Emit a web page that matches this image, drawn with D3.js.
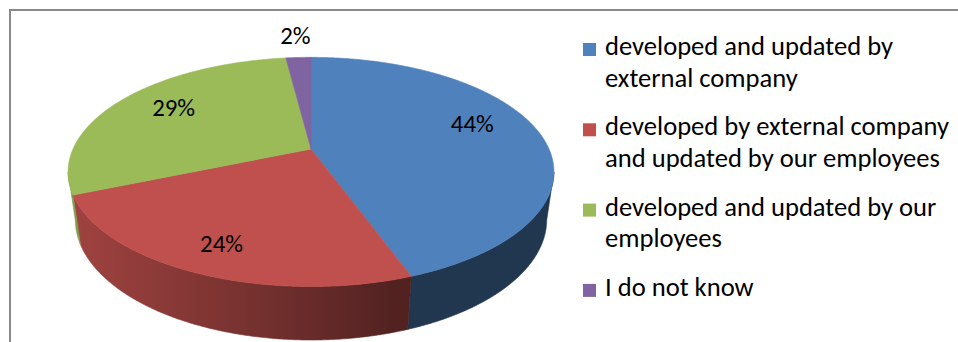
<!DOCTYPE html>
<html>
<head>
<meta charset="utf-8">
<script src="https://cdn.jsdelivr.net/npm/d3@7"></script>
<style>
  html, body { margin: 0; padding: 0; background: #fff; }
  svg { display: block; }
</style>
</head>
<body>
<svg id="chart" width="958" height="342"></svg>
<script>
// Who develops and updates the system — share of answers
const categories = [
  "developed and updated by external company",
  "developed by external company and updated by our employees",
  "developed and updated by our employees",
  "I do not know"
];
const legendLines = [
  ["developed and updated by", "external company"],
  ["developed by external company", "and updated by our employees"],
  ["developed and updated by our", "employees"],
  ["I do not know"]
];
const values = [44, 24, 29, 2];
const valueLabels = ["44%", "24%", "29%", "2%"];
const sliceColors = ["#4f81bd", "#c0504d", "#9bbb59", "#8064a2"];

const W = 958, H = 342;
const svg = d3.select("#chart");
const defs = svg.append("defs");

// chart frame
svg.append("rect")
  .attr("x", 10).attr("y", 10)
  .attr("width", W + 20).attr("height", H + 20)
  .attr("fill", "#fff")
  .attr("stroke", "#898989").attr("stroke-width", 2);

// --- 3D pie projection -------------------------------------------------
// unit disk in world space: x right, y up, z away from the viewer
const cx = 311, cy = 149;          // projected pie centre
const kx = 238, ky = 220;          // horizontal / vertical screen scale
const tilt = 30 * Math.PI / 180;   // viewing elevation
const rho = 0.231;                 // perspective strength (radius / eye distance)
const thick = 0.254;               // pie height relative to radius
const sinT = Math.sin(tilt), cosT = Math.cos(tilt);

function project(x, y, z) {
  const up = y * cosT + z * sinT;
  const depth = 1 - rho * y * sinT + rho * z * cosT;
  return [cx + kx * x / depth, cy - ky * up / depth];
}
const rim = (a, y, r = 1) => project(r * Math.sin(a), y, r * Math.cos(a));

const pie = d3.pie().sort(null).value(d => d);
const arcs = pie(values);

const step = Math.PI / 360;
function arcAngles(a0, a1) {
  const n = Math.max(2, Math.ceil((a1 - a0) / step));
  return d3.range(n + 1).map(i => a0 + (a1 - a0) * i / n);
}

// wall shading: light comes mostly from the left
function wallColor(base, a) {
  const dot = (-Math.sin(a) - 0.3 * Math.cos(a)) / Math.hypot(1, 0.3);
  const k = 0.42 + 0.41 * Math.max(0, dot);
  const c = d3.rgb(base);
  return d3.rgb(c.r * k, c.g * k, c.b * k).formatHex();
}

// visible part of the outer wall lies between the two silhouette angles
const aLeft = Math.acos(-rho * cosT);
const aRight = 2 * Math.PI - aLeft;

const line = d3.line().curve(d3.curveLinearClosed);
const gPie = svg.append("g");

arcs.forEach((d, i) => {
  const a0 = Math.max(d.startAngle, aLeft);
  const a1 = Math.min(d.endAngle, aRight);
  if (a1 <= a0) return;
  const angs = arcAngles(a0, a1);
  const topPts = angs.map(a => rim(a, 0));
  const botPts = angs.map(a => rim(a, -thick)).reverse();
  const xs = topPts.concat(botPts).map(p => p[0]);
  const x1 = d3.min(xs), x2 = d3.max(xs);
  const id = "wall-" + i;
  const stops = angs.map(a => ({
    offset: (rim(a, 0)[0] - x1) / (x2 - x1),
    color: wallColor(sliceColors[i], a)
  })).sort((p, q) => p.offset - q.offset);
  const grad = defs.append("linearGradient")
    .attr("id", id).attr("gradientUnits", "userSpaceOnUse")
    .attr("x1", x1).attr("x2", x2).attr("y1", 0).attr("y2", 0);
  grad.selectAll("stop").data(stops).join("stop")
    .attr("offset", s => Math.max(0, Math.min(1, s.offset)))
    .attr("stop-color", s => s.color);
  gPie.append("path")
    .attr("class", "wall")
    .attr("d", line(topPts.concat(botPts)))
    .attr("fill", `url(#${id})`)
    .attr("stroke", `url(#${id})`)
    .attr("stroke-width", 0.6);
});

// top faces
gPie.selectAll("path.top")
  .data(arcs)
  .join("path")
  .attr("class", "top")
  .attr("d", d => line([project(0, 0, 0), ...arcAngles(d.startAngle, d.endAngle).map(a => rim(a, 0))]))
  .attr("fill", (d, i) => sliceColors[i])
  .attr("stroke", (d, i) => sliceColors[i])
  .attr("stroke-width", 0.6);

const fontFamily = "Carlito, Calibri, Lato, 'Open Sans', sans-serif";

// pick a font size so that a sample string spans the wanted width
function fitSize(sample, width, trial) {
  const t = svg.append("text").attr("font-family", fontFamily).attr("font-size", trial).text(sample);
  const w = t.node().getComputedTextLength();
  t.remove();
  return trial * width / w;
}
const legendSize = fitSize("developed by external company", 344, 22);
const labelSize = fitSize("29%", 43, 22);

// value labels
const labelPlacement = [
  { r: 0.705, dy: -13 },
  { r: 0.8, dy: 0 },
  { r: 0.714, dy: -5 },
  { r: 1.3, dy: 0 }
];

svg.append("g").selectAll("text")
  .data(arcs)
  .join("text")
  .attr("x", (d, i) => rim((d.startAngle + d.endAngle) / 2, 0, labelPlacement[i].r)[0])
  .attr("y", (d, i) => rim((d.startAngle + d.endAngle) / 2, 0, labelPlacement[i].r)[1] + labelPlacement[i].dy)
  .attr("dy", "0.35em")
  .attr("text-anchor", "middle")
  .attr("font-family", fontFamily)
  .attr("font-size", labelSize)
  .attr("fill", "#000")
  .text((d, i) => valueLabels[i]);

// legend
const legend = svg.append("g").attr("font-family", fontFamily).attr("font-size", legendSize);
categories.forEach((c, i) => {
  const baseline = 55 + i * 80.3;
  const item = legend.append("g").attr("class", "legend-item").attr("data-category", c);
  item.append("rect")
    .attr("x", 583).attr("y", baseline - 12)
    .attr("width", 13).attr("height", 13)
    .attr("fill", sliceColors[i]);
  legendLines[i].forEach((t, j) => {
    item.append("text")
      .attr("x", 605)
      .attr("y", baseline + j * 31.5)
      .attr("fill", "#000")
      .text(t);
  });
});
</script>
</body>
</html>
